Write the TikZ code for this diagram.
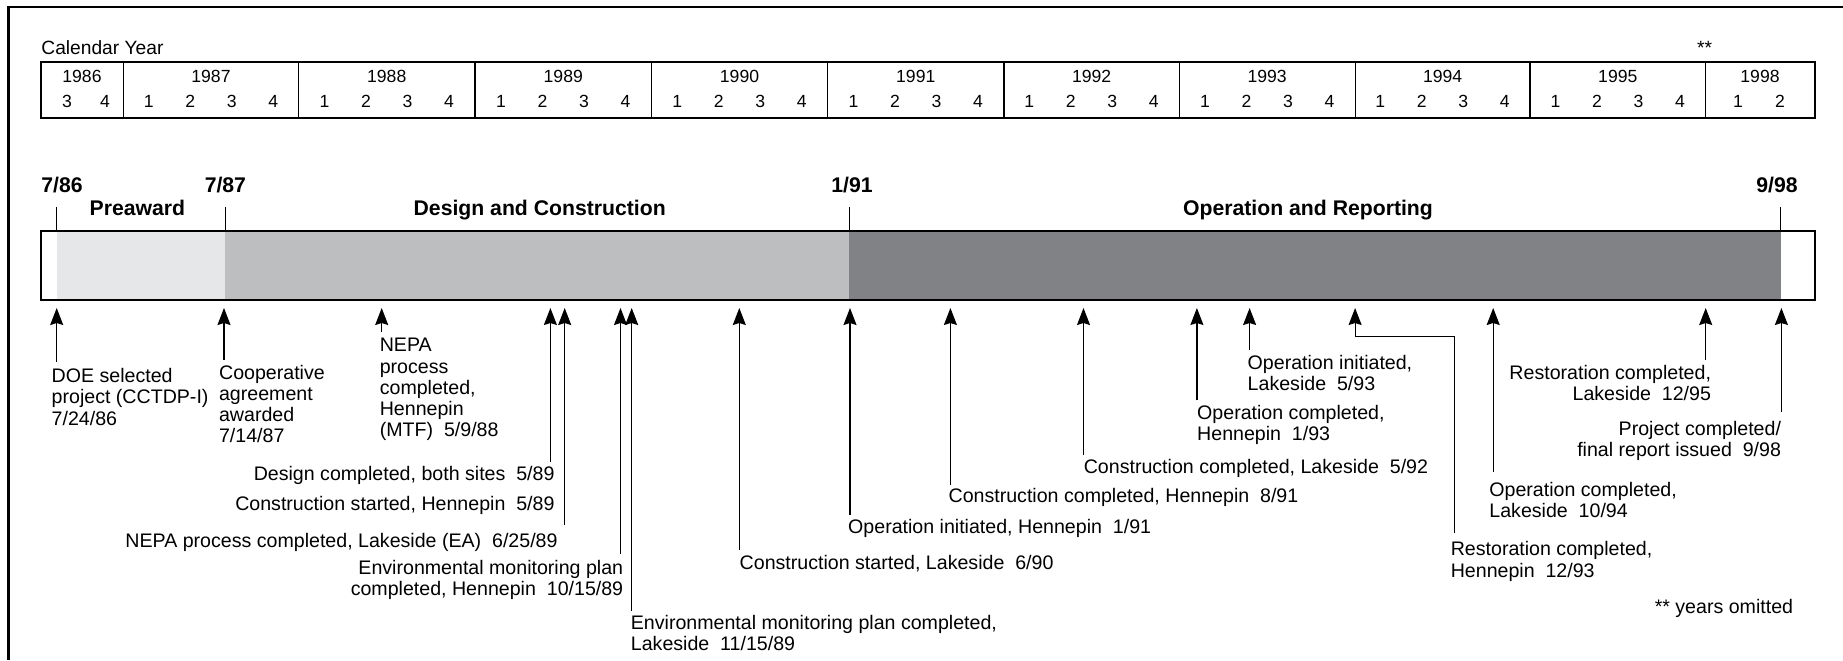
\documentclass[tikz,border=0pt]{standalone}
\usepackage{fontspec}
\setmainfont{Liberation Sans}
\usetikzlibrary{arrows.meta}
\definecolor{grA}{HTML}{E6E7E8}
\definecolor{grB}{HTML}{BCBEC0}
\definecolor{grC}{HTML}{808285}
\begin{document}
\begin{tikzpicture}[x=0.5pt,y=-0.5pt,
  lbl/.style={inner sep=0pt, font=\fontsize{9.8}{10.6}\selectfont},
  lblL/.style={lbl, anchor=north west, align=left},
  lblR/.style={lbl, anchor=north east, align=right},
  tblnum/.style={inner sep=0pt, anchor=base, font=\fontsize{8.8}{10}\selectfont},
  boldlbl/.style={inner sep=0pt, anchor=base, font=\fontsize{10.6}{12}\selectfont\bfseries},
  tbl/.style={line width=0.65pt},
  tick/.style={line width=0.6pt},
  arr/.style={line width=0.6pt, -{Stealth[length=8.5pt,width=6.5pt,inset=1pt]}},
  ]
\useasboundingbox (0,0) rectangle (1843,660);
% frame
\draw[line width=1.35pt] (8.7,660) -- (8.7,7) -- (1843,7);
% calendar
\node[lbl, anchor=base west, font=\fontsize{9.6}{11}\selectfont] (cal) at (41,54) {Calendar Year};
\node[lbl, anchor=center, font=\fontsize{9.6}{11}\selectfont] (ast) at (1704.7,48) {**};
\draw[tbl] (41,62) rectangle (1815,118);
\foreach \d in {123.4,298.6,474.9,651.6,827.5,1004,1179.2,1355.2,1530,1705.6}
  \draw[tbl] (\d,62) -- (\d,118);
\node[tblnum] (y1986) at (82,82.3) {1986};
\node[tblnum] (q1986a) at (67,107.3) {3};
\node[tblnum] (q1986b) at (105,107.3) {4};
\foreach \yr/\c in {1987/211,1988/386.75,1989/563.25,1990/739.5,1991/915.75,1992/1091.6,1993/1267.2,1994/1442.6,1995/1617.8}{
  \node[tblnum] (y\yr) at (\c,82.3) {\yr};
  \foreach \q/\o in {1/-62.25,2/-20.75,3/20.75,4/62.25}
    \node[tblnum] (q\yr\q) at (\c+\o,107.3) {\q};
}
\node[tblnum] (y1998) at (1760,82.3) {1998};
\node[tblnum] (q1998a) at (1738,107.3) {1};
\node[tblnum] (q1998b) at (1780,107.3) {2};
% bar
\fill[white] (41,231) rectangle (1815,300);
\fill[grA] (56.5,231) rectangle (225.4,300);
\fill[grB] (225.4,231) rectangle (849.1,300);
\fill[grC] (849.1,231) rectangle (1780.5,300);
\draw[line width=1.4pt] (41,231) rectangle (1815,300);
\foreach \tx in {56.5,225.4,849.1,1780.5}
  \draw[tick] (\tx,207) -- (\tx,231);
\node[boldlbl] (d86) at (62,192.6) {7/86};
\node[boldlbl] (d87) at (225.4,192.6) {7/87};
\node[boldlbl] (d91) at (852,192.6) {1/91};
\node[boldlbl] (d98) at (1777,192.6) {9/98};
\node[boldlbl] (ph1) at (137.4,215.2) {Preaward};
\node[boldlbl] (ph2) at (539.7,215.2) {Design and Construction};
\node[boldlbl] (ph3) at (1308,215.2) {Operation and Reporting};
% arrows
\foreach \n/\x/\yb in {1/56.7/361.7,2/224/360,3/381.7/331.7,4/550.4/461.7,5/564.7/525,6/620.5/554,7/631.7/611,8/739.3/550,9/850/515,10/950.4/485,11/1083.5/455,12/1196.9/400,13/1249.6/350,15/1493.2/471.7,16/1705.7/360,17/1781.4/411.7}{
  \coordinate (t\n) at (\x,308);
  \coordinate (b\n) at (\x,\yb);
  \draw[arr] (b\n) -- (t\n);
}
\coordinate (t14) at (1355.1,308);
\coordinate (e14) at (1355.1,336.7);
\coordinate (f14) at (1454.2,336.7);
\coordinate (b14) at (1454.2,533.3);
\draw[arr] (b14) -- (f14) -- (e14) -- (t14);
% labels
\node[lblL] (L1) at (51.3,368) {DOE selected\\project (CCTDP-I)\\7/24/86};
\node[lblL] (L2) at (218.7,364.7) {Cooperative\\agreement\\awarded\\7/14/87};
\node[lblL] (L3) at (379.4,338) {NEPA\\process\\completed,\\Hennepin\\(MTF)\ \ 5/9/88};
\node[lblR] (L4) at (554.9,466.3) {Design completed, both sites\ \ 5/89};
\node[lblR] (L5) at (554.9,495.7) {Construction started, Hennepin\ \ 5/89};
\node[lblR] (L6) at (558,533) {NEPA process completed, Lakeside (EA)\ \ 6/25/89};
\node[lblR] (L7) at (623.6,559.7) {Environmental monitoring plan\\completed, Hennepin\ \ 10/15/89};
\node[lblL] (L8) at (630.5,614.7) {Environmental monitoring plan completed,\\Lakeside\ \ 11/15/89};
\node[lblL] (L9) at (739.3,554.7) {Construction started, Lakeside\ \ 6/90};
\node[lblL] (L10) at (847.8,519) {Operation initiated, Hennepin\ \ 1/91};
\node[lblL] (L11) at (948.2,488) {Construction completed, Hennepin\ \ 8/91};
\node[lblL] (L12) at (1083.4,458.7) {Construction completed, Lakeside\ \ 5/92};
\node[lblL] (L13) at (1196.8,404.7) {Operation completed,\\Hennepin\ \ 1/93};
\node[lblL] (L14) at (1247.3,354.7) {Operation initiated,\\Lakeside\ \ 5/93};
\node[lblL] (L15) at (1450.4,541.3) {Restoration completed,\\Hennepin\ \ 12/93};
\node[lblL] (L16) at (1489,482) {Operation completed,\\Lakeside\ \ 10/94};
\node[lblR] (L17) at (1711.4,364.7) {Restoration completed,\\Lakeside\ \ 12/95};
\node[lblR] (L18) at (1781.4,420.7) {Project completed/\\final report issued\ \ 9/98};
\node[lblR] (L19) at (1793.5,599) {** years omitted};
\end{tikzpicture}
\end{document}
